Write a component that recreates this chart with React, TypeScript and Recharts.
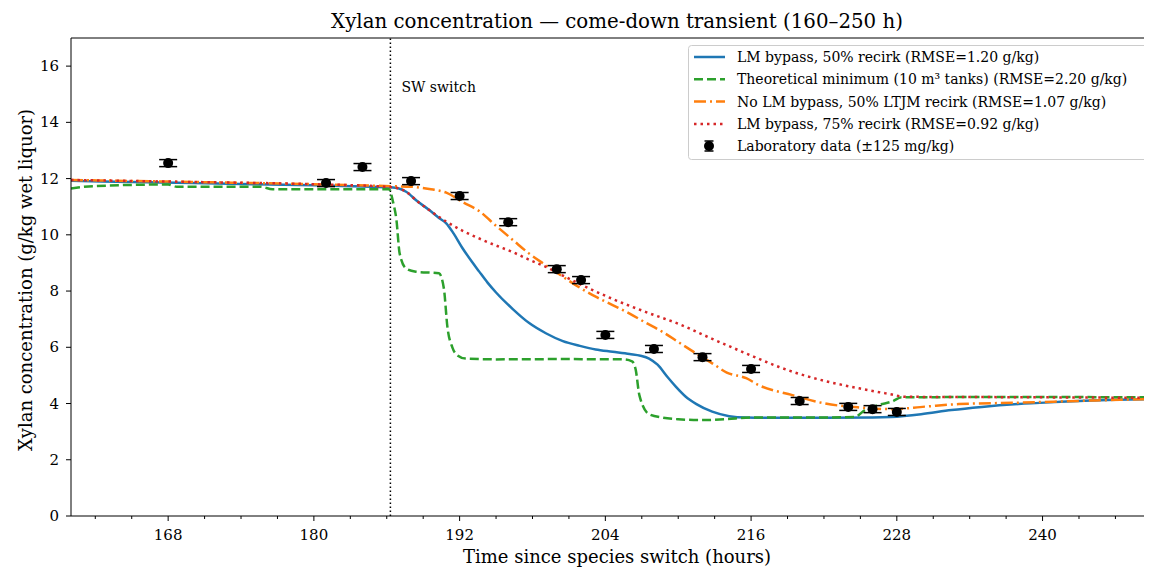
import React from "react";
import {
  ComposedChart,
  Line,
  Scatter,
  ErrorBar,
  XAxis,
  YAxis,
  ReferenceLine,
} from "recharts";

const FONT = "DejaVu Serif";

// LM bypass, 50% recirk
const blueHours = [160, 165, 170, 175, 180, 184, 186.3, 187, 187.6, 188.5, 189.5, 190.3, 190.9, 191.5, 192.2, 193, 193.6, 194.3, 195, 196.4, 197.7, 199.1, 200.5, 201.9, 203.2, 204.6, 206, 206.9, 207.6, 208.3, 209.1, 209.8, 210.6, 211.5, 212.8, 214.2, 215.6, 218, 222, 226, 227.5, 230, 232.5, 235, 238, 241, 243.5, 246, 250];
const blueValues = [11.92, 11.88, 11.84, 11.8, 11.76, 11.72, 11.69, 11.65, 11.53, 11.2, 10.88, 10.6, 10.41, 10.05, 9.55, 9.05, 8.7, 8.3, 7.95, 7.35, 6.87, 6.5, 6.22, 6.05, 5.92, 5.84, 5.76, 5.7, 5.6, 5.38, 4.95, 4.6, 4.25, 3.98, 3.71, 3.55, 3.5, 3.49, 3.49, 3.5, 3.52, 3.62, 3.77, 3.88, 3.98, 4.05, 4.1, 4.13, 4.16];

// Theoretical minimum (10 m3 tanks)
const greenHours = [160, 161.8, 168, 168.7, 175.6, 176.6, 186.2, 186.5, 186.8, 187.06, 187.6, 188.4, 190.3, 190.7, 191.0, 191.4, 191.8, 192.5, 195, 200, 205.5, 206.2, 206.5, 206.8, 207.6, 208.7, 210, 212, 214, 216, 220, 224.5, 225.4, 226.5, 227.6, 228.4, 235, 240, 250];
const greenValues = [11.65, 11.73, 11.79, 11.71, 11.71, 11.62, 11.62, 11.2, 10.52, 9.34, 8.8, 8.69, 8.63, 8.1, 6.7, 6.0, 5.72, 5.6, 5.57, 5.58, 5.57, 5.5, 5.2, 4.3, 3.62, 3.5, 3.44, 3.41, 3.45, 3.5, 3.5, 3.52, 3.77, 3.95, 4.07, 4.22, 4.23, 4.23, 4.22];

// No LM bypass, 50% LTJM recirk
const orangeHours = [160, 170, 180, 186.3, 188, 189.5, 190.9, 192.3, 193.6, 195, 196.4, 197.7, 199.1, 200.5, 201.9, 203.2, 204.6, 206, 207.3, 208.7, 210.1, 211.7, 212.8, 214, 215.6, 216.6, 219.4, 222.1, 224.9, 227.6, 230.3, 233.1, 238, 243.5, 250];
const orangeValues = [11.95, 11.88, 11.8, 11.73, 11.71, 11.63, 11.5, 11.15, 10.85, 10.32, 9.81, 9.34, 8.92, 8.51, 8.12, 7.8, 7.5, 7.2, 6.88, 6.55, 6.16, 5.72, 5.43, 5.1, 4.9, 4.66, 4.3, 4.0, 3.86, 3.8, 3.89, 3.98, 4.03, 4.1, 4.17];

// LM bypass, 75% recirk
const redHours = [160, 170, 180, 186.3, 187, 187.6, 188.5, 189.5, 190.9, 192.3, 193.6, 195, 196.4, 197.7, 199.1, 200.5, 201.9, 204.6, 207.3, 210.1, 212.8, 215.6, 218.3, 220, 222.1, 224.9, 227.6, 228.6, 235, 240, 250];
const redValues = [11.95, 11.88, 11.8, 11.7, 11.65, 11.53, 11.2, 10.88, 10.47, 10.13, 9.87, 9.62, 9.38, 9.12, 8.86, 8.55, 8.25, 7.72, 7.26, 6.82, 6.3, 5.78, 5.3, 5.05, 4.8, 4.54, 4.32, 4.24, 4.23, 4.22, 4.2];

// Laboratory data
const labHours = [168, 181, 184, 188, 192, 196, 200, 202, 204, 208, 212, 216, 220, 224, 226, 228];
const labValues = [12.55, 11.84, 12.41, 11.91, 11.38, 10.45, 8.78, 8.39, 6.44, 5.94, 5.65, 5.23, 4.09, 3.88, 3.8, 3.7];
const labError = 0.125;

const switchHour = 186.3;
const xTicks = [162, 165, 168, 171, 174, 177, 180, 183, 186, 189, 192, 195, 198, 201, 204, 207, 210, 213, 216, 219, 222, 225, 228, 231, 234, 237, 240, 243, 246, 249];
const yTicks = [0, 2, 4, 6, 8, 10, 12, 14, 16];

const toRows = (hours: number[], values: number[]) =>
  hours.map((h, i) => ({ h, v: values[i] }));

const blueData = toRows(blueHours, blueValues);
const greenData = toRows(greenHours, greenValues);
const orangeData = toRows(orangeHours, orangeValues);
const redData = toRows(redHours, redValues);
const labData = labHours.map((h, i) => ({ h, v: labValues[i], err: labError }));

const LW = 2.5;

const XTick = (props: any) => {
  const { x, y, payload } = props;
  const major = (payload.value - 168) % 12 === 0;
  return (
    <g>
      <line x1={x} x2={x} y1={y} y2={y + (major ? 5 : 3)} stroke="#000" strokeWidth={1} />
      {major && (
        <text x={x} y={y + 24} textAnchor="middle" fontFamily={FONT} fontSize={15} fill="#000">
          {payload.value}
        </text>
      )}
    </g>
  );
};

const YTick = (props: any) => {
  const { x, y, payload } = props;
  return (
    <g>
      <line x1={x} x2={x - 5} y1={y} y2={y} stroke="#000" strokeWidth={1} />
      <text x={x - 12} y={y + 5} textAnchor="end" fontFamily={FONT} fontSize={15} fill="#000">
        {payload.value}
      </text>
    </g>
  );
};

const legendItems = [
  { label: "LM bypass, 50% recirk (RMSE=1.20 g/kg)", color: "#1f77b4", dash: undefined },
  { label: "Theoretical minimum (10 m³ tanks) (RMSE=2.20 g/kg)", color: "#2ca02c", dash: "9 4" },
  { label: "No LM bypass, 50% LTJM recirk (RMSE=1.07 g/kg)", color: "#ff7f0e", dash: "12 4 2 4" },
  { label: "LM bypass, 75% recirk (RMSE=0.92 g/kg)", color: "#d62728", dash: "2.5 4" },
];

const Legend = () => (
  <svg width={462} height={116} style={{ position: "absolute", left: 680, top: 37 }}>
    <rect x={0.5} y={0.5} width={460} height={114} rx={3} fill="#fff" fillOpacity={0.8} stroke="#ccc" />
    {legendItems.map((it, i) => (
      <g key={it.label}>
        <line x1={6} x2={37} y1={12 + i * 22.3} y2={12 + i * 22.3} stroke={it.color} strokeWidth={LW} strokeDasharray={it.dash} />
        <text x={49} y={17 + i * 22.3} fontFamily={FONT} fontSize={14} fill="#000">
          {it.label}
        </text>
      </g>
    ))}
    <g>
      <line x1={21} x2={21} y1={96} y2={106} stroke="#000" strokeWidth={1.5} />
      <line x1={16.5} x2={25.5} y1={96} y2={96} stroke="#000" strokeWidth={1.5} />
      <line x1={16.5} x2={25.5} y1={106} y2={106} stroke="#000" strokeWidth={1.5} />
      <circle cx={21} cy={101} r={5} fill="#000" />
      <text x={49} y={106} fontFamily={FONT} fontSize={14} fill="#000">
        Laboratory data (±125 mg/kg)
      </text>
    </g>
  </svg>
);

const LabDot = (props: any) => <circle cx={props.cx} cy={props.cy} r={5} fill="#000" />;

export default function App() {
  return (
    <div style={{ position: "relative", width: 1170, height: 559 }}>
      <ComposedChart width={1170} height={559} margin={{ top: 30, right: 14, bottom: 0, left: 0 }}>
        <XAxis
          dataKey="h"
          type="number"
          domain={[160, 250]}
          ticks={xTicks}
          interval={0}
          allowDataOverflow
          height={51}
          tickSize={0}
          tickMargin={0}
          tickLine={false}
          tick={<XTick />}
          axisLine={{ stroke: "#000" }}
        />
        <YAxis
          dataKey="v"
          type="number"
          domain={[0, 17]}
          ticks={yTicks}
          interval={0}
          allowDataOverflow
          width={63}
          tickSize={0}
          tickMargin={0}
          tickLine={false}
          tick={<YTick />}
          axisLine={{ stroke: "#000" }}
        />
        <ReferenceLine y={17} stroke="#000" strokeWidth={1} />
        <ReferenceLine x={250} stroke="#000" strokeWidth={1} />
        <ReferenceLine
          x={switchHour}
          stroke="#000"
          strokeWidth={1.5}
          strokeDasharray="1.5 2.5"
          label={(p: any) => (
            <text x={p.viewBox.x + 11} y={p.viewBox.y + 54} fontFamily={FONT} fontSize={14} fill="#000">
              SW switch
            </text>
          )}
        />
        <Line data={blueData} dataKey="v" type="monotone" stroke="#1f77b4" strokeWidth={LW} dot={false} activeDot={false} isAnimationActive={false} />
        <Line data={greenData} dataKey="v" type="monotone" stroke="#2ca02c" strokeWidth={LW} strokeDasharray="9 4" dot={false} activeDot={false} isAnimationActive={false} />
        <Line data={orangeData} dataKey="v" type="monotone" stroke="#ff7f0e" strokeWidth={LW} strokeDasharray="12 4 2 4" dot={false} activeDot={false} isAnimationActive={false} />
        <Line data={redData} dataKey="v" type="monotone" stroke="#d62728" strokeWidth={LW} strokeDasharray="2.5 4" dot={false} activeDot={false} isAnimationActive={false} />
        <Scatter data={labData} dataKey="v" fill="#000" shape={<LabDot />} isAnimationActive={false}>
          <ErrorBar dataKey="err" direction="y" width={9} stroke="#000" strokeWidth={1.5} />
        </Scatter>
      </ComposedChart>
      <svg width={1170} height={559} style={{ position: "absolute", left: 0, top: 0, pointerEvents: "none" }}>
        <text x={609} y={20} textAnchor="middle" fontFamily={FONT} fontSize={19.8} fill="#000">
          Xylan concentration — come-down transient (160–250 h)
        </text>
        <text x={609} y={555} textAnchor="middle" fontFamily={FONT} fontSize={18} fill="#000">
          Time since species switch (hours)
        </text>
        <text
          x={24}
          y={272}
          textAnchor="middle"
          transform="rotate(-90 24 272)"
          fontFamily={FONT}
          fontSize={18}
          fill="#000"
        >
          Xylan concentration (g/kg wet liquor)
        </text>
      </svg>
      <Legend />
    </div>
  );
}
